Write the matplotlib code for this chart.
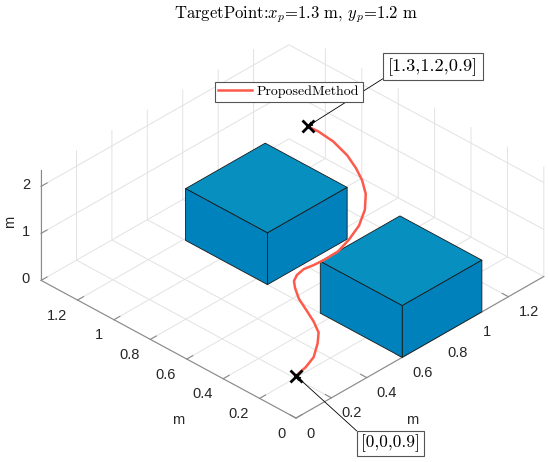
import numpy as np
import matplotlib
matplotlib.use('Agg')
import matplotlib.pyplot as plt
from mpl_toolkits.mplot3d import proj3d
from mpl_toolkits.mplot3d.art3d import Poly3DCollection

plt.rcParams['mathtext.fontset'] = 'cm'
plt.rcParams['axes.unicode_minus'] = False
plt.rcParams['font.family'] = ['Liberation Sans', 'DejaVu Sans']

# ---------------- data ----------------
path_x = [0.0, 0.071, 0.143, 0.224, 0.282, 0.324, 0.360, 0.399, 0.444, 0.476,
          0.514, 0.563, 0.611, 0.673, 0.749, 0.839, 0.936, 1.033, 1.116, 1.176,
          1.220, 1.261, 1.293, 1.303, 1.3]
path_y = [0.0, 0.015, 0.042, 0.099, 0.150, 0.218, 0.291, 0.372, 0.437, 0.474,
          0.495, 0.505, 0.497, 0.493, 0.496, 0.524, 0.564, 0.626, 0.702, 0.781,
          0.857, 0.945, 1.053, 1.143, 1.2]
path_z = 0.9

start_pt = (0.0, 0.0, 0.9)
target_pt = (1.3, 1.2, 0.9)
start_label = '[0,0,0.9]'
target_label = '[1.3,1.2,0.9]'

# obstacles: x range, y range, height
box_x = [(0.60, 1.05), (0.60, 1.05)]
box_y = [(0.74, 1.19), (0.0, 0.45)]
box_h = [1.1, 1.1]

xlim = (0, 1.4)
ylim = (0, 1.4)
zlim = (0, 2.34)
xy_ticks = [0, 0.2, 0.4, 0.6, 0.8, 1.0, 1.2]
xy_ticklabels = ['0', '0.2', '0.4', '0.6', '0.8', '1', '1.2']
z_ticks = [0, 1, 2]
z_ticklabels = ['0', '1', '2']
axis_label = 'm'

title = 'TargetPoint:$x_p$=1.3 m, $y_p$=1.2 m'
legend_label = 'ProposedMethod'

# ---------------- figure ----------------
W, H = 550, 462
fig = plt.figure(figsize=(W / 100, H / 100), dpi=100)
S = 504.7
ax = fig.add_axes([33.3 / W, -20.6 / H, S / W, S / H], projection='3d',
                  computed_zorder=False)
ax.set_proj_type('ortho')
ax.view_init(elev=33.74, azim=-135.8)
ax.set_xlim(*xlim)
ax.set_ylim(*ylim)
ax.set_zlim(*zlim)
ax.set_box_aspect((355.5, 355.5, 132.3))

AX_COL = '#8a8a8a'
TXT_COL = '#262626'
for axis in (ax.xaxis, ax.yaxis, ax.zaxis):
    axis.set_pane_color((1, 1, 1, 0))
    axis.pane.set_edgecolor((1, 1, 1, 0))
    axis._axinfo['grid'].update(color='#e2e2e2', linewidth=0.7)
    axis._axinfo['tick'].update(inward_factor=0.0, outward_factor=0.3)
    axis.line.set_color(AX_COL)
    axis.line.set_linewidth(0.8)

ax.set_xticks(xy_ticks)
ax.set_yticks(xy_ticks)
ax.set_zticks(z_ticks)
ax.set_xticklabels([])
ax.set_yticklabels([])
ax.set_zticklabels([])
ax.tick_params(axis='both', color=AX_COL, width=0.8)
ax.tick_params(axis='z', color=AX_COL, width=0.8)

# boxes (visible faces only)
for (x0, x1), (y0, y1), h in zip(box_x, box_y, box_h):
    top = [(x0, y0, h), (x1, y0, h), (x1, y1, h), (x0, y1, h)]
    fy = [(x0, y0, 0), (x1, y0, 0), (x1, y0, h), (x0, y0, h)]
    fx = [(x0, y0, 0), (x0, y1, 0), (x0, y1, h), (x0, y0, h)]
    pc = Poly3DCollection([fx, fy, top], facecolors=['#0082bd', '#0081bb', '#078fc0'],
                          edgecolors='#1a1a1a', linewidths=0.6, zorder=2)
    ax.add_collection3d(pc)

line, = ax.plot(path_x, path_y, [path_z] * len(path_x), color='#fc5a4b', lw=1.8,
                zorder=4, label=legend_label)
for p in (start_pt, target_pt):
    ax.plot([p[0]], [p[1]], [p[2]], 'x', color='black', ms=8.5, mew=2, zorder=5)

M = ax.get_proj()
def proj(p):
    xs, ys, _ = proj3d.proj_transform(p[0], p[1], p[2], M)
    return (xs, ys)

TICK_FS = 10.5
def tick_text(p, s, dx, dy, ha):
    ax.annotate(s, xy=proj(p), xycoords='data', xytext=(dx, dy),
                textcoords='offset pixels', ha=ha, va='center',
                fontsize=TICK_FS, color=TXT_COL, annotation_clip=False)

for v, s in zip(xy_ticks, xy_ticklabels):
    tick_text((v, ylim[0], zlim[0]), s, 10, -15.5, 'left')
    tick_text((xlim[0], v, zlim[0]), s, -10.5, -15.5, 'right')
for v, s in zip(z_ticks, z_ticklabels):
    tick_text((xlim[0], ylim[1], v), s, -11, 1, 'right')

fig.text(412 / W, 1 - 420 / H, axis_label, ha='center', va='center',
         fontsize=TICK_FS, color=TXT_COL)
fig.text(178 / W, 1 - 420 / H, axis_label, ha='center', va='center',
         fontsize=TICK_FS, color=TXT_COL)
fig.text(10 / W, 1 - 222 / H, axis_label, ha='center', va='center',
         fontsize=TICK_FS, color=TXT_COL, rotation=90)

fig.text(296 / W, 1 - 15 / H, title, ha='center', va='center',
         fontfamily='cmr10', fontsize=12)

ax.legend(handles=[line], labels=[legend_label], loc='upper left',
          bbox_to_anchor=(215 / W, 1 - 82 / H), bbox_transform=fig.transFigure,
          prop={'family': 'cmr10', 'size': 10}, frameon=True, fancybox=False,
          edgecolor='#555555', framealpha=1, borderaxespad=0, handlelength=2.4,
          borderpad=0.25, handletextpad=0.35)
ax.get_legend().get_frame().set_linewidth(0.8)

ax.annotate(target_label, xy=proj(target_pt), xycoords='data',
            xytext=(388 / W, 1 - 75.5 / H), textcoords='figure fraction',
            ha='left', va='bottom', fontfamily='cmr10', fontsize=13.2,
            bbox=dict(boxstyle='square,pad=0.26', fc='white', ec='#555555', lw=0.8),
            arrowprops=dict(arrowstyle='-|>', color='black', lw=0.6,
                            mutation_scale=7, shrinkA=0, shrinkB=0, relpos=(0, 0)),
            annotation_clip=False)
ax.annotate(start_label, xy=proj(start_pt), xycoords='data',
            xytext=(361 / W, 1 - 452.5 / H), textcoords='figure fraction',
            ha='left', va='bottom', fontfamily='cmr10', fontsize=12.5,
            bbox=dict(boxstyle='square,pad=0.22', fc='white', ec='#555555', lw=0.8),
            arrowprops=dict(arrowstyle='-|>', color='black', lw=0.6,
                            mutation_scale=7, shrinkA=0, shrinkB=0, relpos=(0, 1)),
            annotation_clip=False)

fig.savefig('out.png', dpi=100)
